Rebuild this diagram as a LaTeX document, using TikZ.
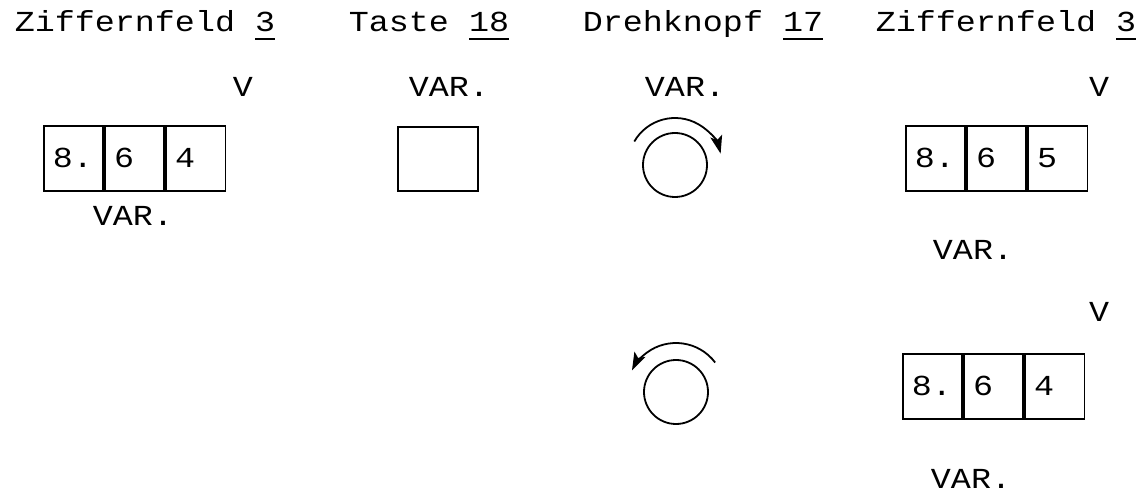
\documentclass[tikz,border=0pt]{standalone}
\usepackage{fontspec}
\newfontfamily\twfont{Liberation Mono}[FakeStretch=1.15]
\usetikzlibrary{arrows.meta}
\newcommand\ulnum[1]{\setbox0=\hbox{#1}\rlap{\rule[-8pt]{\wd0}{1.8pt}}#1}
\tikzset{
  lbl/.style={inner sep=0pt, anchor=base, font=\twfont\fontsize{29}{34}\selectfont},
  cell/.style={draw, line width=1.8pt, minimum height=65pt, inner xsep=9pt, inner ysep=0pt,
    text width=41.3pt, align=left, anchor=north west, font=\twfont\fontsize{29}{34}\selectfont},
  tastebox/.style={draw, line width=1.8pt, minimum width=80pt, minimum height=64pt, inner sep=0pt, anchor=north west},
  knob/.style={draw, circle, line width=1.8pt, minimum size=64pt, inner sep=0pt},
  turn/.style={line width=1.8pt, -{Stealth[length=18pt,width=12pt,inset=4pt]}}
}
\begin{document}
\begin{tikzpicture}[x=1pt,y=1pt]
\useasboundingbox (0,0) rectangle (1138,493);
% titles
\node[lbl] (t1) at (145,461) {Ziffernfeld \ulnum{3}};
\node[lbl] (t2) at (429,461) {Taste \ulnum{18}};
\node[lbl] (t3) at (703,461) {Drehknopf \ulnum{17}};
\node[lbl] (t4) at (1006,461) {Ziffernfeld \ulnum{3}};
% column 1: digit field
\node[lbl] (v1) at (243,396) {V};
\node[cell] (a1) at (43,368) {8.};
\node[cell] (a2) at (a1.north east) {6};
\node[cell] (a3) at (a2.north east) {4};
\node[lbl] (var1) at (133,267) {VAR.};
% column 2: key
\node[lbl] (var2) at (449,396) {VAR.};
\node[tastebox] (key) at (397,367) {};
% column 3: knob
\node[lbl] (var3) at (685,396) {VAR.};
\node[knob] (k1) at (675,328) {};
\draw[turn] ([shift={(150:47)}]k1.center) arc[start angle=150, end angle=14, radius=47];
\node[knob] (k2) at (676,101) {};
\draw[turn] ([shift={(37:49)}]k2.center) arc[start angle=37, end angle=154, radius=49];
% column 4: digit fields
\node[lbl] (v2) at (1099,396) {V};
\node[cell] (b1) at (905,368) {8.};
\node[cell] (b2) at (b1.north east) {6};
\node[cell] (b3) at (b2.north east) {5};
\node[lbl] (var4) at (973,233) {VAR.};
\node[lbl] (v3) at (1099,171) {V};
\node[cell] (c1) at (902,140) {8.};
\node[cell] (c2) at (c1.north east) {6};
\node[cell] (c3) at (c2.north east) {4};
\node[lbl] (var5) at (971,5) {VAR.};
\end{tikzpicture}
\end{document}
